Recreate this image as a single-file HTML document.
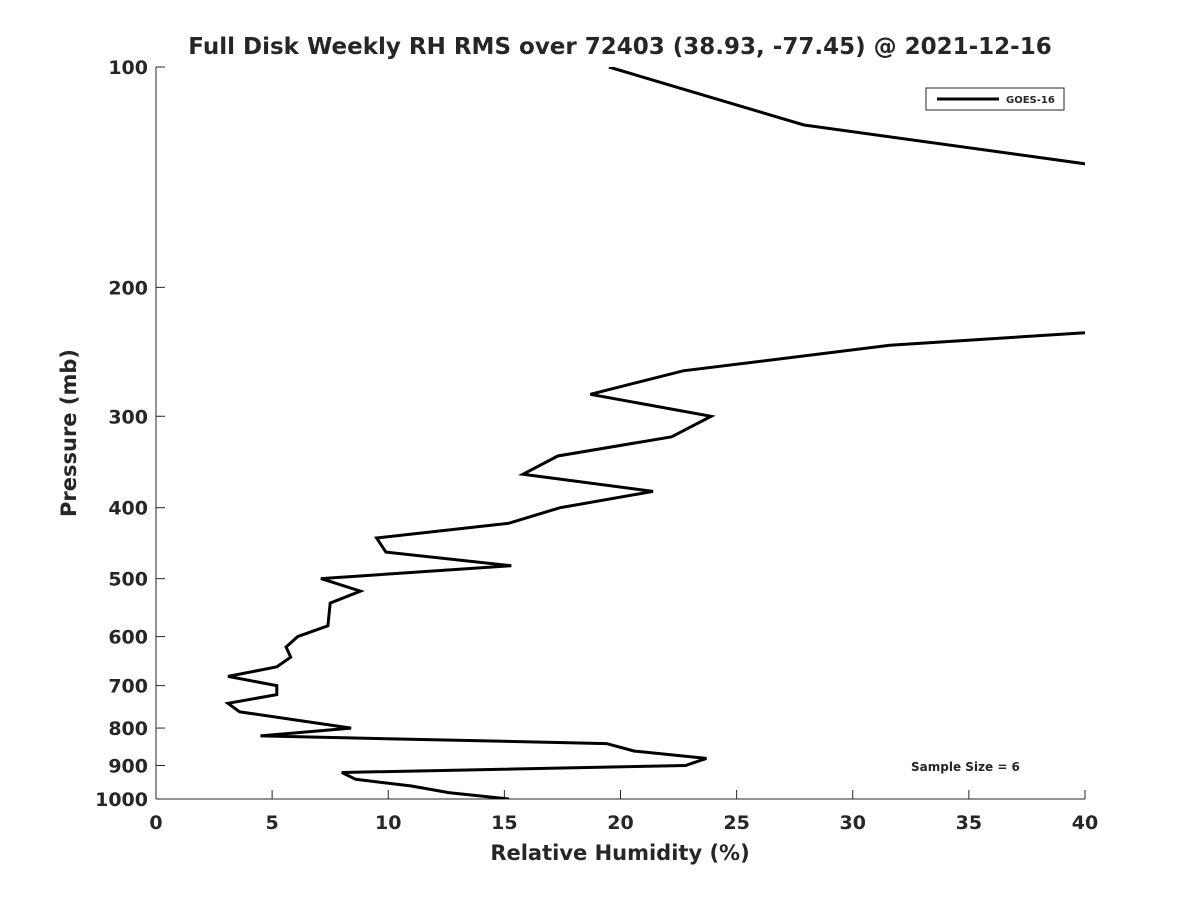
<!DOCTYPE html>
<html><head><meta charset="utf-8"><style>
html,body{margin:0;padding:0;background:#fff;}
svg text{font-family:"DejaVu Sans","Liberation Sans",sans-serif;font-weight:bold;fill:#262626;}
</style></head><body>
<svg id="chart" width="1200" height="900" viewBox="0 0 1200 900" xmlns="http://www.w3.org/2000/svg">
<rect width="1200" height="900" fill="#fff"/>
<defs><clipPath id="plotclip"><rect x="156" y="67" width="929" height="732"/></clipPath></defs>
<text x="620" y="54" text-anchor="middle" font-size="23">Full Disk Weekly RH RMS over 72403 (38.93, -77.45) @ 2021-12-16</text>
<g id="axes"></g>
<g id="series" clip-path="url(#plotclip)"></g>
<text x="620" y="860" text-anchor="middle" font-size="21">Relative Humidity (%)</text>
<text transform="translate(76,433) rotate(-90)" text-anchor="middle" font-size="21">Pressure (mb)</text>
<g>
<rect x="926" y="88" width="138" height="22" fill="#fff" stroke="#262626" stroke-width="1"/>
<line x1="937" y1="99" x2="999" y2="99" stroke="#000" stroke-width="3"/>
<text x="1006" y="103" font-size="10">GOES-16</text>
</g>
<text x="911" y="771" font-size="12">Sample Size = 6</text>
</svg>
<script>
const xTicks = [0,5,10,15,20,25,30,35,40];
const yTicks = [100,200,300,400,500,600,700,800,900,1000];
const rhValues = [19.5,27.9,50,50,31.6,22.7,18.7,23.9,22.2,17.3,15.8,21.4,17.4,15.2,9.5,9.9,15.3,7.1,8.8,7.5,7.4,6.1,5.6,5.8,5.2,3.1,5.2,5.2,3.1,3.6,8.4,4.5,19.4,20.6,23.7,22.8,8.0,8.6,11.0,12.6,15.2];
const pressures = [100,120,150,220,240,260,280,300,320,340,360,380,400,420,440,460,480,500,520,540,580,600,620,640,660,680,700,720,740,760,800,820,840,860,880,900,920,940,960,980,1000];
const X0=156,X1=1085,Y0=67,Y1=799;
function xs(v){return X0+(v-0)/(40-0)*(X1-X0);}
function ys(p){return Y0+(Math.log10(p)-2)*(Y1-Y0);}
const NS="http://www.w3.org/2000/svg";
const axes=document.getElementById('axes');
function mk(tag,attrs,parent){const e=document.createElementNS(NS,tag);for(const k in attrs)e.setAttribute(k,attrs[k]);parent.appendChild(e);return e;}
const xa=mk('line',{x1:X0,y1:Y1,x2:X1,y2:Y1,stroke:'#262626','stroke-width':1},axes);


const ya=mk('line',{x1:X0,y1:Y0,x2:X0,y2:Y1,stroke:'#262626','stroke-width':1},axes);


xTicks.forEach(t=>{
  const x=xs(t);
  mk('line',{x1:x,y1:Y1,x2:x,y2:Y1-9,stroke:'#262626'},axes);
  const tx=mk('text',{x:x,y:Y1+30,'text-anchor':'middle','font-size':19},axes);
  tx.textContent=t;
  
  
});
yTicks.forEach(t=>{
  const y=ys(t);
  mk('line',{x1:X0,y1:y,x2:X0+9,y2:y,stroke:'#262626'},axes);
  const tx=mk('text',{x:X0-8,y:y+7,'text-anchor':'end','font-size':19},axes);
  tx.textContent=t;
  
  
});
const pts=rhValues.map((v,i)=>xs(v).toFixed(1)+','+ys(pressures[i]).toFixed(1)).join(' ');
const pl=mk('polyline',{points:pts,fill:'none',stroke:'#000','stroke-width':3,'stroke-linejoin':'miter'},document.getElementById('series'));


</script>
</body></html>
